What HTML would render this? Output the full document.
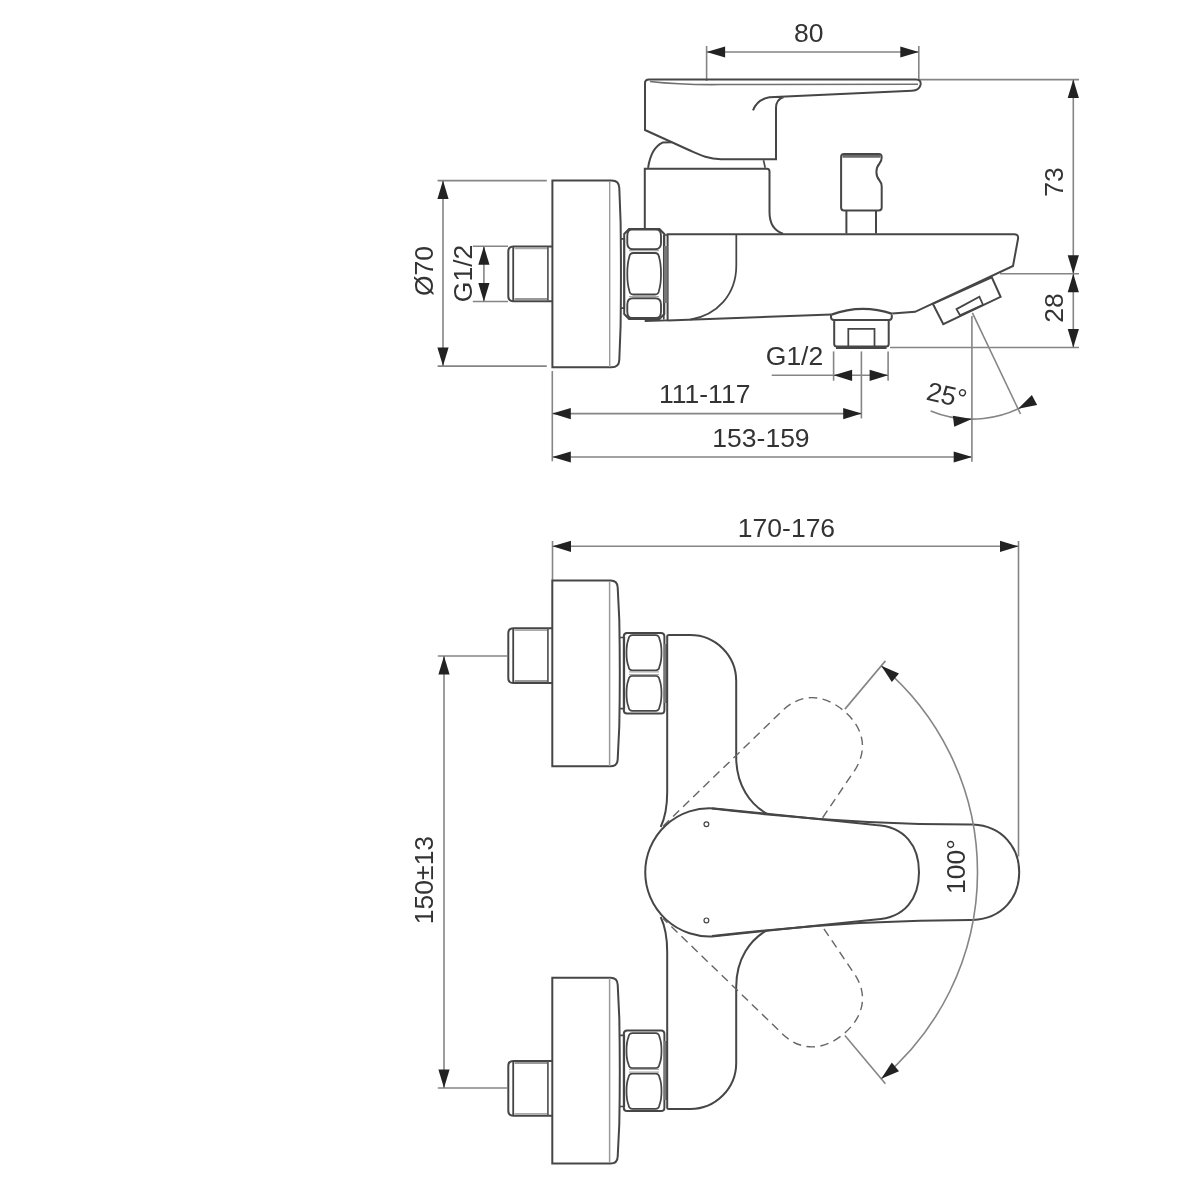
<!DOCTYPE html>
<html><head><meta charset="utf-8"><style>
html,body{margin:0;padding:0;background:#fff;}
svg{display:block;will-change:transform;}
text{font-family:"Liberation Sans",sans-serif;fill:#333333;}
</style></head><body>
<svg width="1192" height="1192" viewBox="0 0 1192 1192">
<rect width="1192" height="1192" fill="#fff"/>
<line x1="706.6" y1="46" x2="706.6" y2="81" stroke="#858585" stroke-width="1.6" />
<line x1="918.8" y1="46" x2="918.8" y2="81" stroke="#858585" stroke-width="1.6" />
<line x1="706.6" y1="52" x2="918.8" y2="52" stroke="#858585" stroke-width="1.6" />
<polygon points="706.60,52.00 725.10,46.40 725.10,57.60" fill="#222222"/>
<polygon points="918.80,52.00 900.30,57.60 900.30,46.40" fill="#222222"/>
<text x="808.7" y="42" font-size="26.5" text-anchor="middle">80</text>
<line x1="918.8" y1="79.6" x2="1079" y2="79.6" stroke="#858585" stroke-width="1.6" />
<line x1="1000" y1="273.8" x2="1079" y2="273.8" stroke="#858585" stroke-width="1.6" />
<line x1="890" y1="347.5" x2="1079" y2="347.5" stroke="#858585" stroke-width="1.6" />
<line x1="1073.3" y1="79.6" x2="1073.3" y2="347.5" stroke="#858585" stroke-width="1.6" />
<polygon points="1073.30,79.60 1078.90,98.10 1067.70,98.10" fill="#222222"/>
<polygon points="1073.30,273.80 1067.70,255.30 1078.90,255.30" fill="#222222"/>
<polygon points="1073.30,273.80 1078.90,292.30 1067.70,292.30" fill="#222222"/>
<polygon points="1073.30,347.50 1067.70,329.00 1078.90,329.00" fill="#222222"/>
<text x="1062.5" y="182" font-size="26.5" text-anchor="middle" transform="rotate(-90 1062.5 182)">73</text>
<text x="1062.5" y="308" font-size="26.5" text-anchor="middle" transform="rotate(-90 1062.5 308)">28</text>
<line x1="437.6" y1="180.6" x2="546.8" y2="180.6" stroke="#858585" stroke-width="1.6" />
<line x1="437.6" y1="366.1" x2="546.8" y2="366.1" stroke="#858585" stroke-width="1.6" />
<line x1="443" y1="180.6" x2="443" y2="366.1" stroke="#858585" stroke-width="1.6" />
<polygon points="443.00,180.60 448.60,199.10 437.40,199.10" fill="#222222"/>
<polygon points="443.00,366.10 437.40,347.60 448.60,347.60" fill="#222222"/>
<text x="433" y="271" font-size="26.5" text-anchor="middle" transform="rotate(-90 433 271)">Ø70</text>
<line x1="472.8" y1="246.3" x2="508" y2="246.3" stroke="#858585" stroke-width="1.6" />
<line x1="472.8" y1="301.5" x2="508" y2="301.5" stroke="#858585" stroke-width="1.6" />
<line x1="483.9" y1="246.3" x2="483.9" y2="301.5" stroke="#858585" stroke-width="1.6" />
<polygon points="483.90,246.30 489.50,264.80 478.30,264.80" fill="#222222"/>
<polygon points="483.90,301.50 478.30,283.00 489.50,283.00" fill="#222222"/>
<text x="472.5" y="273.4" font-size="26.5" text-anchor="middle" transform="rotate(-90 472.5 273.4)">G1/2</text>
<line x1="833.6" y1="351.4" x2="833.6" y2="380.7" stroke="#858585" stroke-width="1.6" />
<line x1="888.1" y1="351.4" x2="888.1" y2="380.7" stroke="#858585" stroke-width="1.6" />
<line x1="771.7" y1="375.3" x2="888.1" y2="375.3" stroke="#858585" stroke-width="1.6" />
<polygon points="833.60,375.30 852.10,369.70 852.10,380.90" fill="#222222"/>
<polygon points="888.10,375.30 869.60,380.90 869.60,369.70" fill="#222222"/>
<text x="794.5" y="365" font-size="26.5" text-anchor="middle">G1/2</text>
<line x1="861.4" y1="351.4" x2="861.4" y2="418.4" stroke="#858585" stroke-width="1.6" />
<line x1="552.3" y1="371" x2="552.3" y2="461.3" stroke="#858585" stroke-width="1.6" />
<line x1="552.3" y1="413.6" x2="861.7" y2="413.6" stroke="#858585" stroke-width="1.6" />
<polygon points="552.30,413.60 570.80,408.00 570.80,419.20" fill="#222222"/>
<polygon points="861.70,413.60 843.20,419.20 843.20,408.00" fill="#222222"/>
<text x="704.7" y="402.5" font-size="26.5" text-anchor="middle">111-117</text>
<line x1="552.3" y1="457" x2="972.2" y2="457" stroke="#858585" stroke-width="1.6" />
<polygon points="552.30,457.00 570.80,451.40 570.80,462.60" fill="#222222"/>
<polygon points="972.20,457.00 953.70,462.60 953.70,451.40" fill="#222222"/>
<text x="761" y="447" font-size="26.5" text-anchor="middle">153-159</text>
<line x1="971.9" y1="316" x2="971.9" y2="461.8" stroke="#858585" stroke-width="1.6" />
<path d="M 1033.55,399.84 A 108.3 108.3 0 0 1 930.63,410.93" stroke="#858585" stroke-width="1.6" fill="none"/>
<line x1="972.4" y1="312.8" x2="1020.5" y2="414" stroke="#858585" stroke-width="1.6" />
<polygon points="971.90,419.10 954.20,426.86 952.86,415.74" fill="#222222"/>
<polygon points="1018.18,408.71 1031.86,395.06 1037.14,404.94" fill="#222222"/>
<text x="944.8" y="404" font-size="26.5" text-anchor="middle" transform="rotate(13 944.8 404)">25°</text>
<path d="M 753,110.3 Q 757,99.5 769.4,97.3 L 912,90.7 Q 919,90.5 920.5,85 Q 921.5,79.5 916,79.5 L 649,79.5 Q 645,79.5 645,83 L 645,130 L 690,150.5 C 700,155 708,159 721,159.3 L 776,159.3 L 776,108 Q 776,99.5 783.6,97" stroke="#464646" stroke-width="2.0" fill="none" />
<path d="M 650,81.5 Q 680,85 720,84.6 L 918,84.3" stroke="#707070" stroke-width="1.54" fill="none" />
<path d="M 648.1,167.8 C 650,155 655,146 662.5,142.6 L 671.6,142.3" stroke="#464646" stroke-width="2.0" fill="none" />
<path d="M 763.5,160.2 L 765.2,167.7" stroke="#464646" stroke-width="1.65" fill="none" />
<path d="M 644.8,229 V 168.7 H 767 Q 769.5,168.7 769.5,171.5 V 212 C 769.5,224 775,231 783,233.6" stroke="#464646" stroke-width="2.0" fill="none" />
<path d="M 667.6,320.4 L 667.6,234.3 L 1014,234.3 Q 1018.8,234.3 1018,239 L 1013,266 L 915.1,311.8 L 892.3,313.5" stroke="#464646" stroke-width="2.0" fill="none" />
<path d="M 667.6,320.4 L 831.5,314.6" stroke="#464646" stroke-width="2.0" fill="none" />
<path d="M 736.3,234.3 V 265.3 C 736.3,295 717,315 690.2,319.7" stroke="#464646" stroke-width="1.76" fill="none" />
<path d="M 846.4,233.4 V 210.5 M 876,210.5 V 233.4" stroke="#464646" stroke-width="2.0" fill="none" />
<path d="M 844,154.1 H 878.7 Q 881.7,154.1 881.7,157.5 Q 881.7,161 879.5,163.5 Q 876.4,167 876.4,172 Q 876.4,177 879.5,180.5 Q 881.7,183 881.7,186.5 V 207.5 Q 881.7,210.5 878.7,210.5 H 844 Q 841.1,210.5 841.1,207.5 V 157 Q 841.1,154.1 844,154.1 Z" stroke="#464646" stroke-width="2.0" fill="none" />
<path d="M 842.5,156.4 H 880.5" stroke="#6a6a6a" stroke-width="2.86" fill="none" />
<path d="M 932.8,303.8 L 991.8,277.4 L 1000.6,296.8 L 943.3,324.1 Z" stroke="#464646" stroke-width="2.0" fill="none" />
<path d="M 956.5,309.1 L 979.4,296.8 L 983,304.7 L 960,315.3 Z" stroke="#464646" stroke-width="1.76" fill="none" />
<path d="M 831.5,314.6 Q 861.5,303.5 892.3,313.8" stroke="#464646" stroke-width="2.42" fill="none" />
<path d="M 831,314.7 V 317.3 Q 831,319.9 834,319.9 H 889 Q 891.8,319.9 891.8,317.3 V 314.7" stroke="#464646" stroke-width="2.0" fill="none" />
<path d="M 834.2,320 V 344 Q 834.2,346.5 837,346.5 H 886 Q 888.7,346.5 888.7,344 V 320" stroke="#464646" stroke-width="2.0" fill="none" />
<path d="M 836,347.8 H 886.5" stroke="#464646" stroke-width="2.64" fill="none" />
<path d="M 848.3,346 V 328.8 H 874.5 V 346" stroke="#464646" stroke-width="1.76" fill="none" />
<path d="M 552.4,180.6 H 611.5 Q 619,180.6 619.3,188 L 620.6,222 Q 621.3,274 620.6,326 L 619.3,360 Q 619,367.3 611.5,367.3 H 552.4 Z" stroke="#464646" stroke-width="2.0" fill="none" />
<line x1="609.7" y1="181" x2="609.7" y2="367" stroke="#999" stroke-width="1.4" />
<path d="M 552.4,246.6 H 513.5 Q 508.3,246.6 508.3,251.79999999999998 V 296.1 Q 508.3,301.3 513.5,301.3 H 552.4" stroke="#464646" stroke-width="2.0" fill="none" />
<line x1="513.2" y1="247.1" x2="513.2" y2="300.8" stroke="#444" stroke-width="1.8" />
<line x1="547.9" y1="247.1" x2="547.9" y2="300.8" stroke="#5e5e5e" stroke-width="1.8" />
<line x1="514.5" y1="248.5" x2="547" y2="248.5" stroke="#aaa" stroke-width="1.6" />
<line x1="514.5" y1="299.2" x2="547" y2="299.2" stroke="#999" stroke-width="2.2" />
<path d="M 620.7,238.9 H 624.3 V 308.1 H 620.7" stroke="#464646" stroke-width="1.65" fill="none" />
<path d="M 624.2,234 L 629,229 H 659.5 L 664.3,234 V 314 L 659.5,319 H 629 L 624.2,314 Z" stroke="#464646" stroke-width="1.98" fill="none" />
<path d="M 632,229.6 H 656 Q 661,229.6 661,236 V 243 Q 661,249.3 655,249.3 H 633 Q 627.3,249.3 627.3,243 V 236 Q 627.3,229.6 632,229.6 Z" stroke="#464646" stroke-width="1.87" fill="none" />
<path d="M 633.3,253 H 655 Q 658.5,253 659,257 Q 661,263.375 661,273.75 Q 661,284.125 659,290.5 Q 658.5,294.5 655,294.5 H 633.3 Q 629.8,294.5 629.3,290.5 Q 627.3,284.125 627.3,273.75 Q 627.3,263.375 629.3,257 Q 629.8,253 633.3,253 Z" stroke="#464646" stroke-width="1.76" fill="none" />
<path d="M 633,298.3 H 655 Q 661,298.3 661,304.5 V 311.5 Q 661,318 656,318 H 632 Q 627.3,318 627.3,311.5 V 304.5 Q 627.3,298.3 633,298.3 Z" stroke="#464646" stroke-width="1.87" fill="none" />
<path d="M 629,250.6 H 659 M 629,296.6 H 659" stroke="#aaa" stroke-width="1.32" fill="none" />
<path d="M 663.8,235 H 668 M 663.8,235 V 319.6" stroke="#464646" stroke-width="1.65" fill="none" />
<rect x="664" y="246" width="3.6" height="57" fill="#777"/>
<path d="M 644.7,321 L 668,320.4" stroke="#464646" stroke-width="1.76" fill="none" />
<line x1="552.5" y1="541" x2="552.5" y2="580" stroke="#858585" stroke-width="1.6" />
<line x1="1018.5" y1="541" x2="1018.5" y2="856.4" stroke="#858585" stroke-width="1.6" />
<line x1="552.5" y1="546.3" x2="1018.5" y2="546.3" stroke="#858585" stroke-width="1.6" />
<polygon points="552.50,546.30 571.00,540.70 571.00,551.90" fill="#222222"/>
<polygon points="1018.50,546.30 1000.00,551.90 1000.00,540.70" fill="#222222"/>
<text x="786.5" y="536.5" font-size="26.5" text-anchor="middle">170-176</text>
<line x1="437.8" y1="656" x2="507" y2="656" stroke="#858585" stroke-width="1.6" />
<line x1="437.8" y1="1088" x2="507" y2="1088" stroke="#858585" stroke-width="1.6" />
<line x1="444" y1="656" x2="444" y2="1088" stroke="#858585" stroke-width="1.6" />
<polygon points="444.00,656.00 449.60,674.50 438.40,674.50" fill="#222222"/>
<polygon points="444.00,1088.00 438.40,1069.50 449.60,1069.50" fill="#222222"/>
<text x="432.5" y="880" font-size="26.5" text-anchor="middle" transform="rotate(-90 432.5 880)">150±13</text>
<g>
<path d="M 552.3,766.3 V 580.4 H 610.5 Q 617.5,580.4 617.7,587.5 L 619.3,620 Q 620.3,673 619.3,726 L 617.7,759.2 Q 617.5,766.3 610.5,766.3 Z" stroke="#464646" stroke-width="2.0" fill="none" />
<line x1="609.6" y1="581" x2="609.6" y2="766" stroke="#999" stroke-width="1.5" />
<path d="M 552.4,628.2 H 513.5 Q 508.3,628.2 508.3,633.4000000000001 V 677.9 Q 508.3,683.1 513.5,683.1 H 552.4" stroke="#464646" stroke-width="2.0" fill="none" />
<line x1="513.2" y1="628.7" x2="513.2" y2="682.6" stroke="#444" stroke-width="1.8" />
<line x1="547.9" y1="628.7" x2="547.9" y2="682.6" stroke="#5e5e5e" stroke-width="1.8" />
<line x1="514.5" y1="630.1" x2="547" y2="630.1" stroke="#aaa" stroke-width="1.6" />
<line x1="514.5" y1="681.0" x2="547" y2="681.0" stroke="#999" stroke-width="2.2" />
<path d="M 620.1,637.5 H 624.3 V 708.6 H 620.1" stroke="#464646" stroke-width="1.65" fill="none" />
<path d="M 627,632.9 H 661 Q 664.4,632.9 664.4,636.5 V 710 Q 664.4,713.6 661,713.6 H 627 Q 623.8,713.6 623.8,710 V 636.5 Q 623.8,632.9 627,632.9 Z" stroke="#464646" stroke-width="1.98" fill="none" />
<path d="M 632.5,635.2 H 655.5 Q 659.0,635.2 659.5,639.2 Q 661.5,643.975 661.5,652.75 Q 661.5,661.525 659.5,666.3 Q 659.0,670.3 655.5,670.3 H 632.5 Q 629.0,670.3 628.5,666.3 Q 626.5,661.525 626.5,652.75 Q 626.5,643.975 628.5,639.2 Q 629.0,635.2 632.5,635.2 Z" stroke="#464646" stroke-width="1.76" fill="none" />
<path d="M 632.5,675.8 H 655.5 Q 659.0,675.8 659.5,679.8 Q 661.5,684.5749999999999 661.5,693.3499999999999 Q 661.5,702.125 659.5,706.9 Q 659.0,710.9 655.5,710.9 H 632.5 Q 629.0,710.9 628.5,706.9 Q 626.5,702.125 626.5,693.3499999999999 Q 626.5,684.5749999999999 628.5,679.8 Q 629.0,675.8 632.5,675.8 Z" stroke="#464646" stroke-width="1.76" fill="none" />
<path d="M 629,671.8 H 659 M 629,674.6 H 659" stroke="#aaa" stroke-width="1.21" fill="none" />
<rect x="664" y="644" width="3.6" height="59" fill="#777"/>
<path d="M 660.7,827 C 664,820 667.2,810 667.2,792 V 636.5 Q 667.2,635 669,635 H 690.2 A 46 46 0 0 1 736.2,681 V 757 C 736.2,785 750,805 769,815" stroke="#464646" stroke-width="2.0" fill="none" />
</g>
<g transform="matrix(1,0,0,-1,0,1744)">
<path d="M 552.3,766.3 V 580.4 H 610.5 Q 617.5,580.4 617.7,587.5 L 619.3,620 Q 620.3,673 619.3,726 L 617.7,759.2 Q 617.5,766.3 610.5,766.3 Z" stroke="#464646" stroke-width="2.0" fill="none" />
<line x1="609.6" y1="581" x2="609.6" y2="766" stroke="#999" stroke-width="1.5" />
<path d="M 552.4,628.2 H 513.5 Q 508.3,628.2 508.3,633.4000000000001 V 677.9 Q 508.3,683.1 513.5,683.1 H 552.4" stroke="#464646" stroke-width="2.0" fill="none" />
<line x1="513.2" y1="628.7" x2="513.2" y2="682.6" stroke="#444" stroke-width="1.8" />
<line x1="547.9" y1="628.7" x2="547.9" y2="682.6" stroke="#5e5e5e" stroke-width="1.8" />
<line x1="514.5" y1="630.1" x2="547" y2="630.1" stroke="#aaa" stroke-width="1.6" />
<line x1="514.5" y1="681.0" x2="547" y2="681.0" stroke="#999" stroke-width="2.2" />
<path d="M 620.1,637.5 H 624.3 V 708.6 H 620.1" stroke="#464646" stroke-width="1.65" fill="none" />
<path d="M 627,632.9 H 661 Q 664.4,632.9 664.4,636.5 V 710 Q 664.4,713.6 661,713.6 H 627 Q 623.8,713.6 623.8,710 V 636.5 Q 623.8,632.9 627,632.9 Z" stroke="#464646" stroke-width="1.98" fill="none" />
<path d="M 632.5,635.2 H 655.5 Q 659.0,635.2 659.5,639.2 Q 661.5,643.975 661.5,652.75 Q 661.5,661.525 659.5,666.3 Q 659.0,670.3 655.5,670.3 H 632.5 Q 629.0,670.3 628.5,666.3 Q 626.5,661.525 626.5,652.75 Q 626.5,643.975 628.5,639.2 Q 629.0,635.2 632.5,635.2 Z" stroke="#464646" stroke-width="1.76" fill="none" />
<path d="M 632.5,675.8 H 655.5 Q 659.0,675.8 659.5,679.8 Q 661.5,684.5749999999999 661.5,693.3499999999999 Q 661.5,702.125 659.5,706.9 Q 659.0,710.9 655.5,710.9 H 632.5 Q 629.0,710.9 628.5,706.9 Q 626.5,702.125 626.5,693.3499999999999 Q 626.5,684.5749999999999 628.5,679.8 Q 629.0,675.8 632.5,675.8 Z" stroke="#464646" stroke-width="1.76" fill="none" />
<path d="M 629,671.8 H 659 M 629,674.6 H 659" stroke="#aaa" stroke-width="1.21" fill="none" />
<rect x="664" y="644" width="3.6" height="59" fill="#777"/>
<path d="M 660.7,827 C 664,820 667.2,810 667.2,792 V 636.5 Q 667.2,635 669,635 H 690.2 A 46 46 0 0 1 736.2,681 V 757 C 736.2,785 750,805 769,815" stroke="#464646" stroke-width="2.0" fill="none" />
</g>
<g transform="rotate(-50 708 872.3)"><path d="M 714.4,808.2 L 875.6,825 C 905,826.5 919,846 919,872.3 C 919,898.5 905,918 875.6,919.6 L 714.4,936.4" stroke="#666" stroke-width="1.4" fill="none" stroke-dasharray="8.5 5.5"/></g>
<g transform="rotate(50 708 872.3)"><path d="M 714.4,808.2 L 875.6,825 C 905,826.5 919,846 919,872.3 C 919,898.5 905,918 875.6,919.6 L 714.4,936.4" stroke="#666" stroke-width="1.4" fill="none" stroke-dasharray="8.5 5.5"/></g>
<path d="M 714.4,808.4 L 875.6,825 C 905,826.5 919,846 919,872.3 C 919,898.5 905,918 875.6,919.6 L 714.4,936.2 A 64.1 64.1 0 1 1 714.4,808.4 Z" stroke="#464646" stroke-width="2.0" fill="#fff" />
<path d="M 712,808.5 Q 850,824.8 972.8,824.6 C 1003,826 1019.2,848 1019.2,872.3 C 1019.2,897 1003,918.5 972.8,920 Q 850,919.8 712,936.1" stroke="#464646" stroke-width="2.0" fill="none" />
<circle cx="706.4" cy="824.2" r="2.4" stroke="#464646" stroke-width="1.2" fill="none"/>
<circle cx="706.4" cy="920.4" r="2.4" stroke="#464646" stroke-width="1.2" fill="none"/>
<path d="M 881.23,665.85 A 269.5 269.5 0 0 1 881.23,1078.75" stroke="#858585" stroke-width="1.6" fill="none"/>
<line x1="844.91" y1="709.13" x2="885.41" y2="660.87" stroke="#858585" stroke-width="1.6" />
<polygon points="881.23,665.85 899.00,673.45 891.80,682.03" fill="#222222"/>
<line x1="844.91" y1="1035.47" x2="885.41" y2="1083.73" stroke="#858585" stroke-width="1.6" />
<polygon points="881.23,1078.75 891.80,1062.57 899.00,1071.15" fill="#222222"/>
<text x="965" y="866.5" font-size="26.5" text-anchor="middle" transform="rotate(-90 965 866.5)">100°</text>
</svg>
</body></html>
